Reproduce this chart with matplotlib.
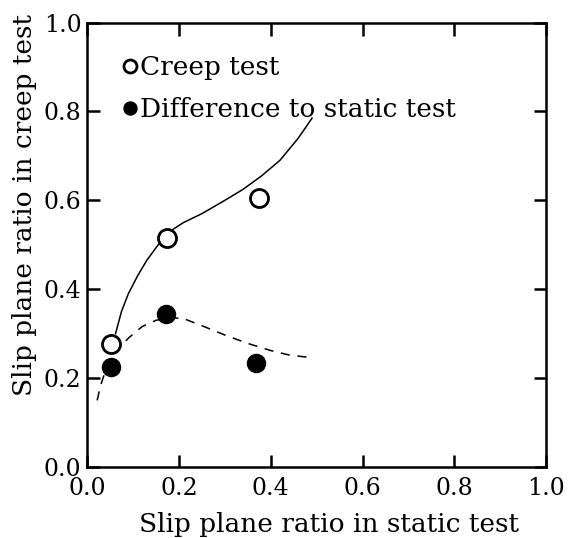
import matplotlib.pyplot as plt

# values
creep_x = [0.052, 0.174, 0.374]
creep_y = [0.276, 0.515, 0.605]
diff_x = [0.053, 0.172, 0.368]
diff_y = [0.226, 0.345, 0.234]

# hand-drawn trend curves
solid_x = [0.062, 0.075, 0.09, 0.11, 0.13, 0.155, 0.18, 0.21, 0.25, 0.30, 0.34, 0.38, 0.42, 0.46, 0.49]
solid_y = [0.30, 0.35, 0.39, 0.43, 0.465, 0.50, 0.53, 0.55, 0.57, 0.60, 0.625, 0.655, 0.69, 0.74, 0.785]
dash_x = [0.022, 0.03, 0.038, 0.05, 0.068, 0.09, 0.12, 0.15, 0.18, 0.21, 0.25, 0.30, 0.35, 0.40, 0.44, 0.48]
dash_y = [0.15, 0.185, 0.21, 0.24, 0.265, 0.29, 0.316, 0.33, 0.336, 0.334, 0.318, 0.297, 0.278, 0.262, 0.252, 0.247]

ticks = [0.0, 0.2, 0.4, 0.6, 0.8, 1.0]

plt.rcParams['font.family'] = 'DejaVu Serif'

fig = plt.figure(figsize=(5.69, 5.38), dpi=100)
ax = fig.add_axes([0.153, 0.132, 0.807, 0.826])

ax.plot(solid_x, solid_y, color='black', lw=1.1, zorder=2)
ax.plot(dash_x, dash_y, color='black', lw=1.1, linestyle=(0, (6, 5)), zorder=2)
ax.plot(creep_x, creep_y, 'o', ms=13, mfc='white', mec='black', mew=2.0,
        zorder=3, label='Creep test')
ax.plot(diff_x, diff_y, 'o', ms=13, mfc='black', mec='black',
        zorder=3, label='Difference to static test')

ax.set_xlim(0, 1)
ax.set_ylim(0, 1)
ax.set_xticks(ticks)
ax.set_yticks(ticks)
ax.set_xticklabels(['%.1f' % t for t in ticks])
ax.set_yticklabels(['%.1f' % t for t in ticks])
ax.tick_params(direction='in', length=9, width=1.8, top=True, right=True,
               labelsize=17)
ax.tick_params(axis='x', pad=7)
ax.tick_params(axis='y', pad=4)
for s in ax.spines.values():
    s.set_linewidth(1.8)

ax.set_xlabel('Slip plane ratio in static test', fontsize=19, labelpad=9, x=0.527)
ax.set_ylabel('Slip plane ratio in creep test', fontsize=19, labelpad=5, y=0.59)

leg = ax.legend(loc='upper left', bbox_to_anchor=(0.027, 0.98), frameon=False,
                fontsize=19, handlelength=0.5, handletextpad=0.15,
                markerscale=0.72, labelspacing=0.64)

fig.savefig('out.png', dpi=100)
